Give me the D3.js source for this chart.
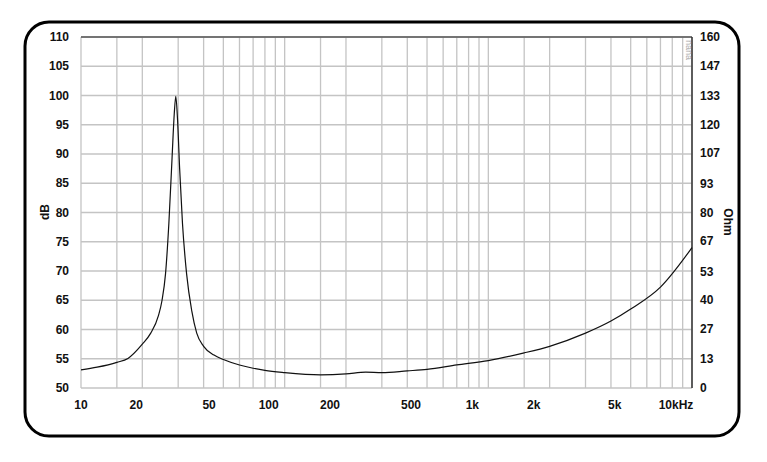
<!DOCTYPE html>
<html>
<head>
<meta charset="utf-8">
<script src="https://cdn.jsdelivr.net/npm/d3@7"></script>
<style>
body { margin: 0; background: #fff; }
text { font-family: Arial, "Liberation Sans", sans-serif; font-weight: bold; font-size: 12px; fill: #111; }
</style>
</head>
<body>
<svg id="chart" width="767" height="462"></svg>
<script>
const freqs = [10, 12, 15, 17, 20, 22, 24, 25, 26, 27, 28, 28.7, 29.2, 29.8, 30.5, 31.5, 33, 35, 37, 40, 45, 50, 60, 70, 80, 100, 150, 200, 250, 300, 400, 500, 700, 1000, 1500, 2000, 3000, 4000, 5000, 7000, 10000];
const ohms = [8.3, 9.5, 11.7, 13.5, 20, 25, 33, 40, 52, 75, 105, 125, 133, 122, 100, 75, 52, 35, 25, 19, 15, 13, 10.5, 9, 8, 7, 6, 6.4, 7.2, 7, 7.8, 8.5, 10.5, 12.5, 16, 19, 25, 30.5, 36, 46, 64];
const dbTicks = [50, 55, 60, 65, 70, 75, 80, 85, 90, 95, 100, 105, 110];
const ohmTicks = [0, 13, 27, 40, 53, 67, 80, 93, 107, 120, 133, 147, 160];
const freqLabels = [10, 20, 50, 100, 200, 500, 1000, 2000, 5000, 10000];
const freqLabelText = ["10", "20", "50", "100", "200", "500", "1k", "2k", "5k", "10kHz"];
const gridFreqs = [10, 15, 20, 30, 40, 50, 60, 70, 80, 90, 100, 150, 200, 300, 400, 500, 600, 700, 800, 900,
    1000, 1500, 2000, 3000, 4000, 5000, 6000, 7000, 8000, 9000, 10000];

const svg = d3.select("#chart");
const plotLeft = 81, plotRight = 692, plotTop = 37, plotBottom = 388;

svg.append("rect")
    .attr("x", 25).attr("y", 22).attr("width", 714).attr("height", 414)
    .attr("rx", 24).attr("fill", "none").attr("stroke", "#000").attr("stroke-width", 3);

const x = d3.scaleLog().domain([10, 10000]).range([plotLeft, plotRight]);
const yDb = d3.scaleLinear().domain([50, 110]).range([plotBottom, plotTop]);
const yOhm = d3.scaleLinear().domain([0, 160]).range([plotBottom, plotTop]);

svg.append("g").selectAll("line").data(gridFreqs).enter().append("line")
    .attr("x1", d => x(d)).attr("x2", d => x(d))
    .attr("y1", plotTop).attr("y2", plotBottom)
    .attr("stroke", "#c4c4c4").attr("stroke-width", 1.3);

svg.append("g").selectAll("line").data(dbTicks).enter().append("line")
    .attr("x1", plotLeft).attr("x2", plotRight)
    .attr("y1", d => yDb(d)).attr("y2", d => yDb(d))
    .attr("stroke", "#c4c4c4").attr("stroke-width", 1.3);

svg.append("line").attr("x1", plotLeft).attr("x2", plotRight).attr("y1", plotTop).attr("y2", plotTop)
    .attr("stroke", "#555").attr("stroke-width", 1.5);
svg.append("line").attr("x1", plotRight).attr("x2", plotRight).attr("y1", plotTop).attr("y2", plotBottom)
    .attr("stroke", "#333").attr("stroke-width", 1.5);

svg.append("g").selectAll("text").data(dbTicks).enter().append("text")
    .attr("x", 69).attr("y", d => yDb(d) + 4)
    .attr("text-anchor", "end").text(d => d);

svg.append("g").selectAll("text").data(ohmTicks).enter().append("text")
    .attr("x", 700).attr("y", d => yOhm(d) + 4).text(d => d);

svg.append("g").selectAll("text").data(freqLabels).enter().append("text")
    .attr("x", d => x(d) - Math.min(16, (x(d) - plotLeft) * 0.1))
    .attr("y", 409).attr("text-anchor", "middle")
    .text((d, i) => freqLabelText[i]);

svg.append("text").attr("transform", "translate(49,212) rotate(-90)")
    .attr("text-anchor", "middle").text("dB");
svg.append("text").attr("transform", "translate(724,222) rotate(90)")
    .attr("text-anchor", "middle").text("Ohm");

svg.append("text").attr("transform", "translate(686,40) rotate(90)")
    .style("font-size", "9px").style("font-weight", "normal").style("fill", "#aaa").text("nana");

const line = d3.line().x(d => x(d[0])).y(d => yOhm(d[1])).curve(d3.curveMonotoneX);
svg.append("path").datum(freqs.map((f, i) => [f, ohms[i]]))
    .attr("d", line).attr("fill", "none").attr("stroke", "#111").attr("stroke-width", 1.2);
</script>
</body>
</html>
